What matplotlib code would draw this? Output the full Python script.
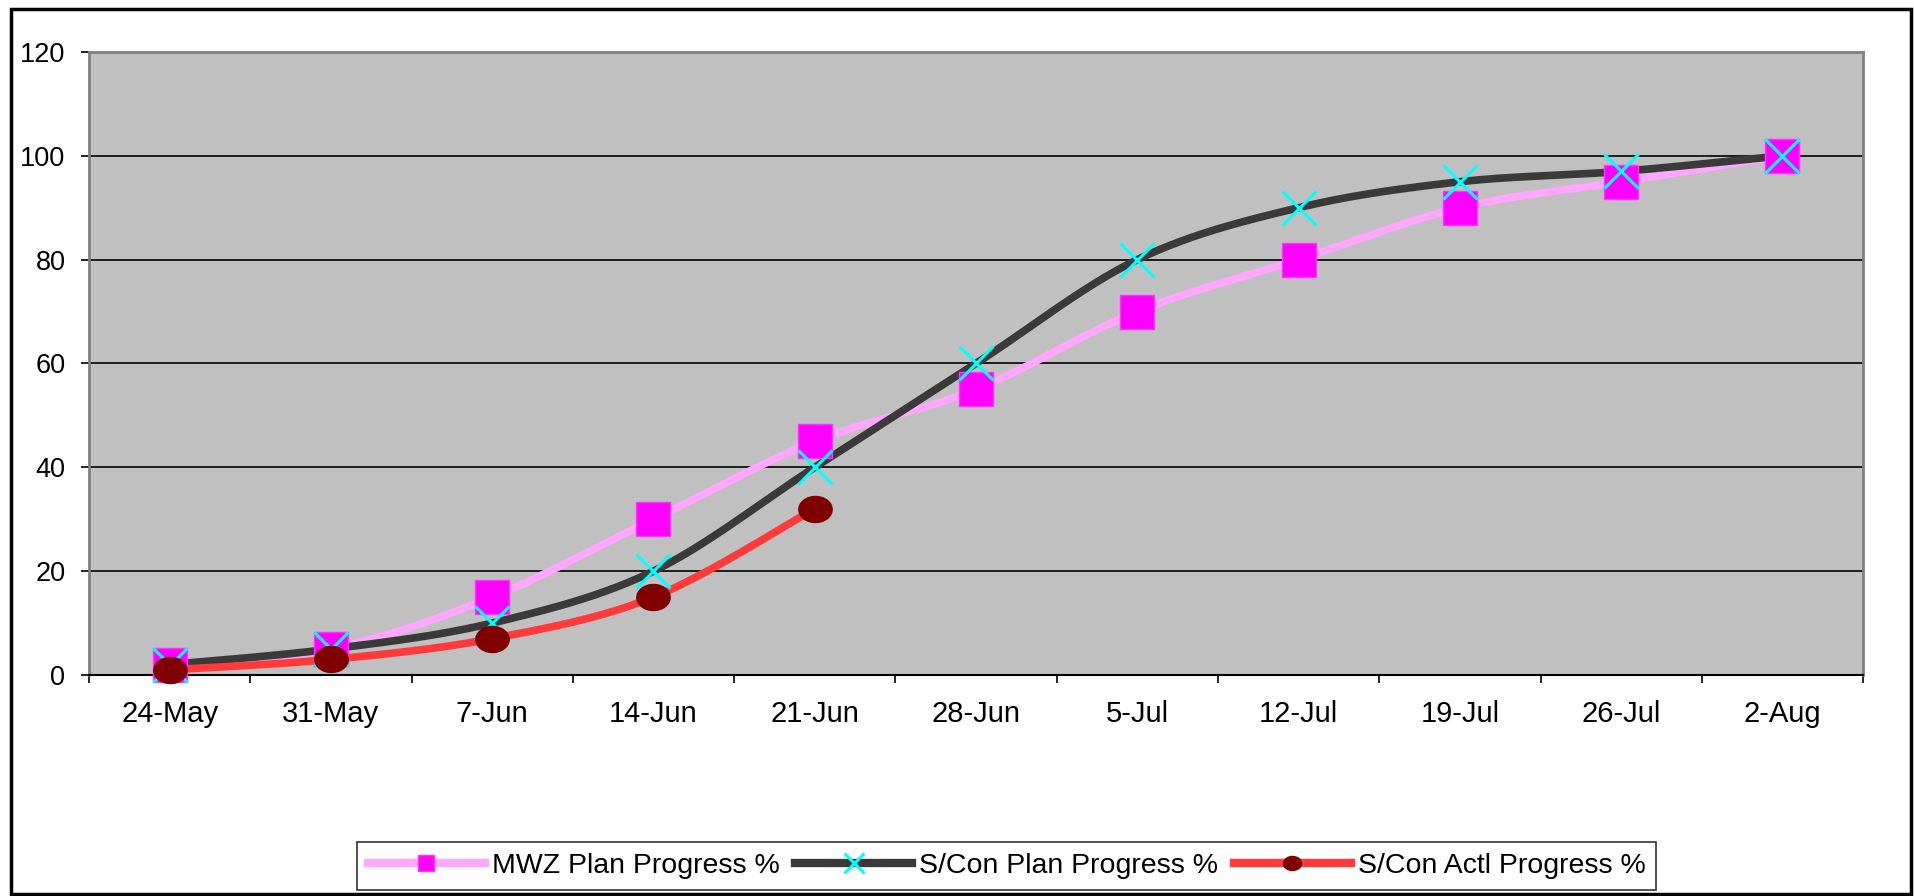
import numpy as np
import matplotlib
matplotlib.use('Agg')
import matplotlib.pyplot as plt
from matplotlib.lines import Line2D
from matplotlib.path import Path
from matplotlib.patches import Rectangle

plt.rcParams['font.family'] = ['Liberation Sans', 'DejaVu Sans']

weeks = ['24-May', '31-May', '7-Jun', '14-Jun', '21-Jun', '28-Jun',
         '5-Jul', '12-Jul', '19-Jul', '26-Jul', '2-Aug']
mwz_plan = [2, 5, 15, 30, 45, 55, 70, 80, 90, 95, 100]
scon_plan = [2, 5, 10, 20, 40, 60, 80, 90, 95, 97, 100]
scon_actual = [1, 3, 7, 15, 32]

series_names = ['MWZ Plan Progress %', 'S/Con Plan Progress %', 'S/Con Actl Progress %']


def smooth_curve(x, y, steps=30):
  # Catmull-Rom through every point (same as a "smoothed line" in a spreadsheet)
  pts = np.column_stack([x, y]).astype(float)
  pts = np.vstack([pts[0], pts, pts[-1]])
  t = np.linspace(0, 1, steps, endpoint=False)[:, None]
  out = []
  for i in range(1, len(pts) - 2):
    p0, p1, p2, p3 = pts[i-1], pts[i], pts[i+1], pts[i+2]
    c1 = p1 + (p2 - p0) / 6
    c2 = p2 - (p3 - p1) / 6
    out.append((1-t)**3*p1 + 3*(1-t)**2*t*c1 + 3*(1-t)*t**2*c2 + t**3*p2)
  out.append(pts[-2][None, :])
  out = np.vstack(out)
  return out[:, 0], out[:, 1]


# flattened dot for the actual-progress series
circ = Path.unit_circle()
ellipse = Path(circ.vertices * [1.0, 0.78], circ.codes)

styles = [
  dict(line='#FFA6FF', marker='s', mfc='#FF00FF', mec='#FF33FF', ms=24, mew=1, legend_ms=11),
  dict(line='#3A3A3A', marker='x', mfc='#00FFFF', mec='#00FFFF', ms=25, mew=2.2, legend_ms=14),
  dict(line='#FF3A3A', marker=ellipse, mfc='#800000', mec='#7A0000', ms=24, mew=1, legend_ms=13),
]

fig = plt.figure(figsize=(19.14, 8.96), dpi=100)
ax = fig.add_axes([0.0465, 0.2467, 0.9269, 0.6953])
ax.set_facecolor('#C0C0C0')

for vals, st in zip([mwz_plan, scon_plan, scon_actual], styles):
  xs = np.arange(len(vals))
  sx, sy = smooth_curve(xs, vals)
  ax.plot(sx, sy, color=st['line'], lw=5.5, solid_capstyle='butt', zorder=3)
  ax.plot(xs, vals, ls='none', marker=st['marker'], ms=st['ms'], mfc=st['mfc'],
          mec=st['mec'], mew=st['mew'], zorder=4, clip_on=False)

ax.set_xlim(-0.5, 10.5)
ax.set_ylim(0, 120)
ax.set_yticks(np.arange(0, 121, 20))
ax.yaxis.grid(True, color='black', lw=1.2)
ax.set_axisbelow(True)

# category ticks sit between the weeks, labels centred on them
ax.set_xticks(np.arange(-0.5, 11, 1))
ax.set_xticklabels([])
ax.set_xticks(np.arange(len(weeks)), minor=True)
ax.set_xticklabels(weeks, minor=True)
ax.tick_params(axis='x', which='major', length=6, width=1.2, direction='out', color='black')
ax.tick_params(axis='x', which='minor', length=0, pad=18, labelsize=21)
ax.tick_params(axis='y', length=6, width=1.2, direction='out', pad=11, labelsize=19.5)

for side in ['top', 'right', 'left']:
  ax.spines[side].set_color('#808080')
  ax.spines[side].set_linewidth(2)
ax.spines['bottom'].set_color('black')
ax.spines['bottom'].set_linewidth(1.5)

handles = [Line2D([], [], color=st['line'], lw=6, marker=st['marker'], ms=st['legend_ms'],
                  mfc=st['mfc'], mec=st['mec'], mew=st['mew'] if st['marker'] == 'x' else 1)
           for st in styles]
leg = fig.legend(handles, series_names, loc='center', bbox_to_anchor=(0.526, 0.0335),
                 ncol=3, fontsize=20.5, frameon=True, fancybox=False, handlelength=4.1,
                 handletextpad=0.25, columnspacing=0.55, borderpad=0.38, borderaxespad=0)
leg.get_frame().set_edgecolor('black')
leg.get_frame().set_linewidth(1.2)

# outer chart border
fig.patches.append(Rectangle((0.006, 0.002), 0.9925, 0.9885, transform=fig.transFigure,
                             fill=False, edgecolor='black', lw=2.5))

fig.savefig('out.png', dpi=100)
